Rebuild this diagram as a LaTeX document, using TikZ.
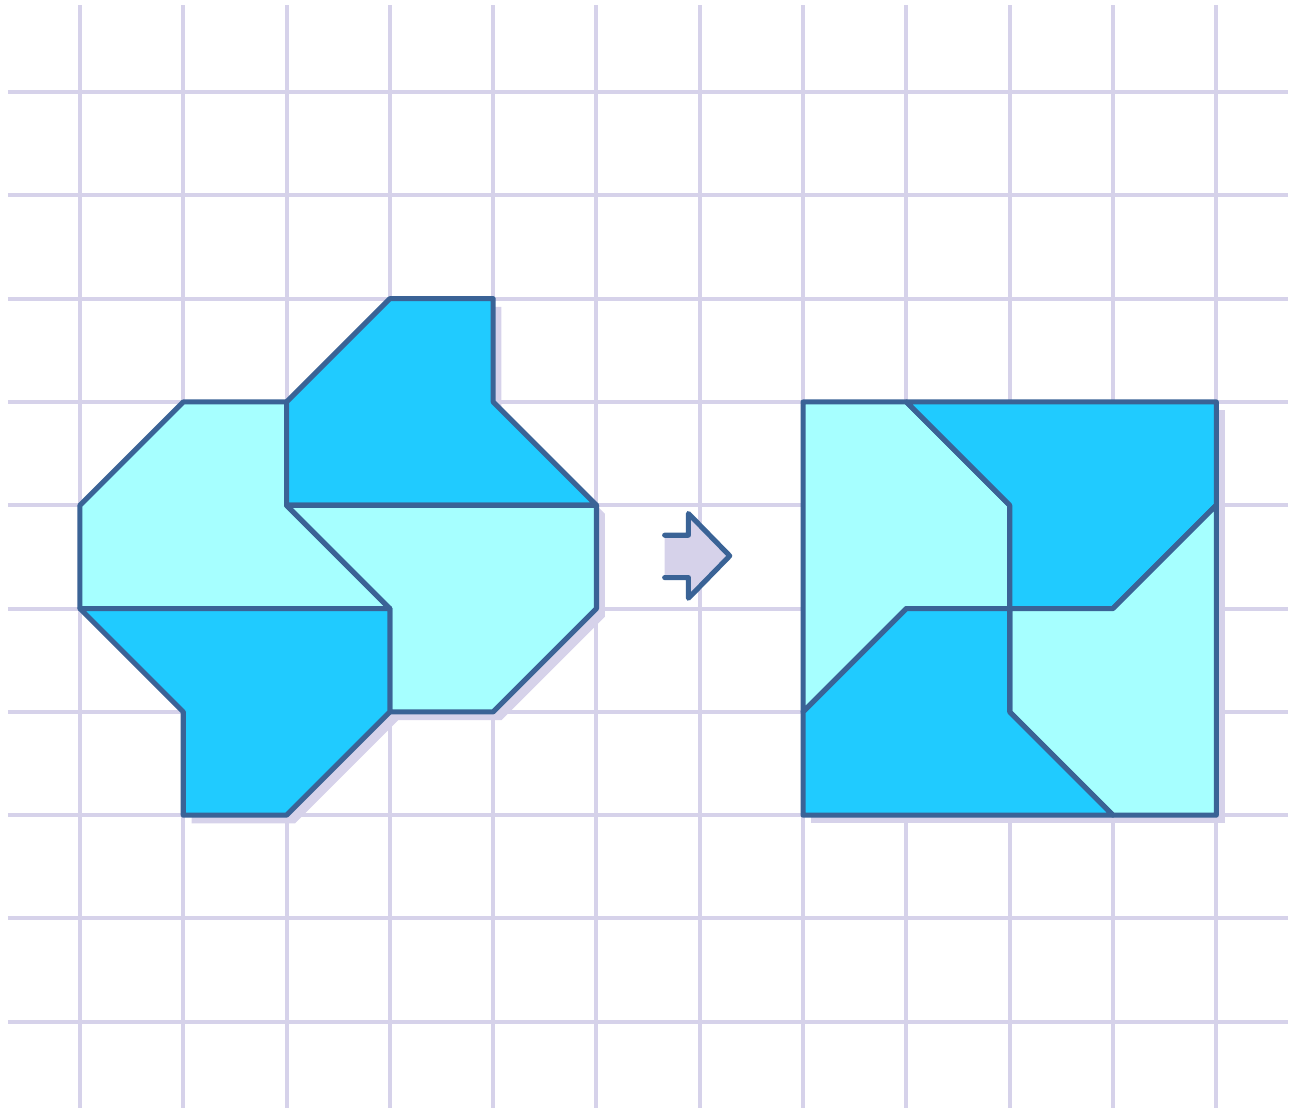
\documentclass[tikz,border=0pt]{standalone}
\usepackage{tikz}
\usepackage{xcolor}
\definecolor{gridlav}{HTML}{D6D2EA}
\definecolor{pieceline}{HTML}{3A6396}
\definecolor{lightcyan}{HTML}{A6FFFF}
\definecolor{deepcyan}{HTML}{20CBFF}

\begin{document}
\begin{tikzpicture}[
  x=1cm, y=-1cm,
  gridline/.style={draw=gridlav,line width=1.1pt},
  shadow/.style={fill=gridlav},
  piece/.style={draw=pieceline,line width=1.4pt,line join=round},
  light/.style={piece,fill=lightcyan},
  dark/.style={piece,fill=deepcyan}]
\useasboundingbox (-0.774,-0.891) rectangle (11.752,9.835);
% squared paper
\foreach \r in {0,...,9}
  \draw[gridline] (-0.697,\r) -- (11.694,\r);
\foreach \c in {0,...,11}
  \draw[gridline] (\c,-0.842) -- (\c,9.835);
% shadows
\fill[shadow,shift={(0.08,0.08)}] (3,2) -- (4,2) -- (4,3) -- (5,4) -- (5,5) -- (4,6)
  -- (3,6) -- (2,7) -- (1,7) -- (1,6) -- (0,5) -- (0,4) -- (1,3) -- (2,3) -- cycle;
\fill[shadow,shift={(0.08,0.08)}] (7,3) rectangle (11,7);
% left figure
\draw[light] (1,3) -- (2,3) -- (2,4) -- (3,5) -- (0,5) -- (0,4) -- cycle;
\draw[dark] (3,2) -- (4,2) -- (4,3) -- (5,4) -- (2,4) -- (2,3) -- cycle;
\draw[light] (2,4) -- (5,4) -- (5,5) -- (4,6) -- (3,6) -- (3,5) -- cycle;
\draw[dark] (0,5) -- (3,5) -- (3,6) -- (2,7) -- (1,7) -- (1,6) -- cycle;
% right figure
\draw[light] (7,3) -- (8,3) -- (9,4) -- (9,5) -- (8,5) -- (7,6) -- cycle;
\draw[dark] (8,3) -- (11,3) -- (11,4) -- (10,5) -- (9,5) -- (9,4) -- cycle;
\draw[light] (11,4) -- (11,7) -- (10,7) -- (9,6) -- (9,5) -- (10,5) -- cycle;
\draw[dark] (7,6) -- (8,5) -- (9,5) -- (9,6) -- (10,7) -- (7,7) -- cycle;
% arrow
\coordinate (atop) at (5.66,4.29);
\coordinate (abot) at (5.66,4.70);
\coordinate (atip) at (6.29,4.49);
\fill[shadow] (atop) -- (5.89,4.29) -- (5.89,4.08) -- (atip) -- (5.89,4.90)
  -- (5.89,4.70) -- (abot) -- cycle;
\draw[piece,line cap=round] (abot) -- (5.89,4.70) -- (5.89,4.90) -- (atip)
  -- (5.89,4.08) -- (5.89,4.29) -- (atop);
\end{tikzpicture}
\end{document}
